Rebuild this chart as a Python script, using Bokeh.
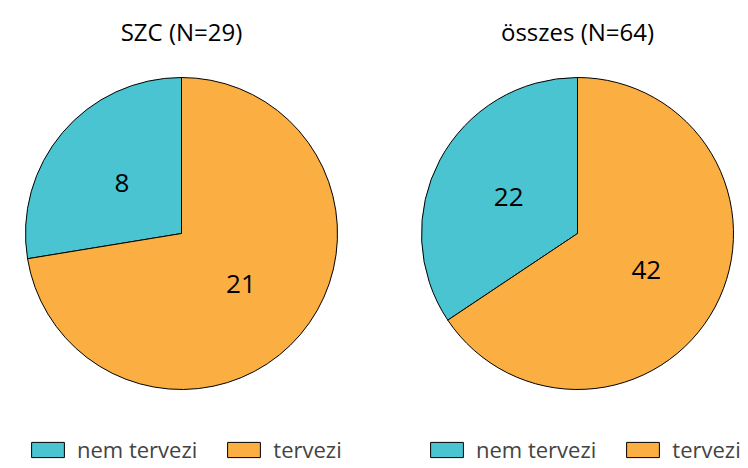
import math
from bokeh.plotting import figure
from bokeh.models import ColumnDataSource, Range1d, Legend, LegendItem
from bokeh.core.properties import value
from bokeh.embed import file_html
from bokeh.resources import INLINE

# ---- data ----
panel_titles = ["SZC (N=29)", "összes (N=64)"]
categories = ["nem tervezi", "tervezi"]
szc_values = [8, 21]
osszes_values = [22, 42]
colors = ["#4AC4D0", "#FBAF42"]

series = [szc_values, osszes_values]

W, H = 748, 468
p = figure(width=W, height=H, x_range=Range1d(0, W), y_range=Range1d(0, H),
           output_backend="svg", toolbar_location=None, min_border=0)
p.axis.visible = False
p.grid.visible = False
p.outline_line_color = None
p.background_fill_color = "white"

centers_x = [181, 577]
center_y = 235
R = 156
legend_x = [27, 426]

FONT = "Open Sans"

for k, vals in enumerate(series):
    total = sum(vals)
    starts, ends, lx, ly = [], [], [], []
    a = math.pi / 2
    for v in vals:
        s = a
        e = a + 2 * math.pi * v / total
        starts.append(s)
        ends.append(e)
        m = (s + e) / 2
        lx.append(centers_x[k] + 0.5 * R * math.cos(m))
        ly.append(center_y + 0.5 * R * math.sin(m))
        a = e
    src = ColumnDataSource(dict(start=starts, end=ends, color=colors,
                                label=[str(v) for v in vals], lx=lx, ly=ly,
                                x=[centers_x[k]] * len(vals), y=[center_y] * len(vals)))
    r = p.wedge(x="x", y="y", radius=R, start_angle="start", end_angle="end",
                fill_color="color", line_color="black", line_width=1, source=src)
    p.text(x="lx", y="ly", text="label", source=src, text_align="center",
           text_baseline="middle", text_font=value(FONT), text_font_size="26px",
           text_color="black")
    p.text(x=[centers_x[k]], y=[437], text=[panel_titles[k]], text_align="center",
           text_baseline="middle", text_font=value(FONT), text_font_size="24px",
           text_color="black")
    items = [LegendItem(label=categories[i], renderers=[r], index=i) for i in range(len(vals))]
    leg = Legend(items=items, orientation="horizontal", location=(legend_x[k], 4),
                 glyph_width=41, glyph_height=19, label_standoff=9, spacing=26,
                 padding=0, margin=0, border_line_alpha=0, background_fill_alpha=0,
                 label_text_font=FONT, label_text_font_size="22px", label_height=19,
                 label_text_baseline="middle")
    p.add_layout(leg, "center")

open("out.html", "w").write(file_html(p, INLINE))
